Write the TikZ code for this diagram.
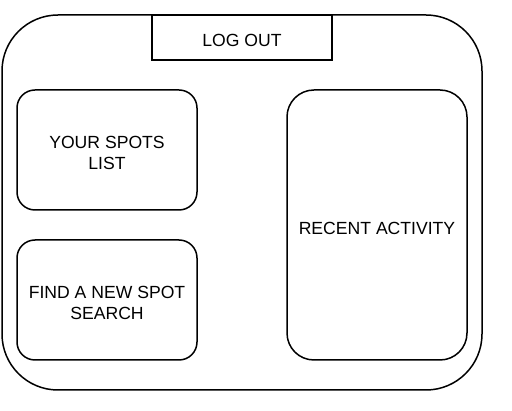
\documentclass[tikz,border=0pt]{standalone}
\usepackage{fontspec}
\setmainfont{Liberation Sans}
\begin{document}
\begin{tikzpicture}[x=1pt,y=-1pt,
  box/.style={draw=black,line width=1.5pt,fill=white,inner sep=0pt},
  txt/.style={label={[align=center,inner sep=0pt,yshift=-3pt,
    font=\fontsize{17.6}{20.5}\selectfont]center:#1}},
]
\useasboundingbox (0,0) rectangle (512,411);
\node[box,rounded corners=56pt,minimum width=480pt,minimum height=375pt] (frame) at (242,202.5) {};
\node[box,minimum width=180pt,minimum height=45pt,txt={LOG OUT}] (logout) at (242,37.5) {};
\node[box,rounded corners=18pt,minimum width=180pt,minimum height=120pt,txt={YOUR SPOTS\\LIST}] (spots) at (107,150) {};
\node[box,rounded corners=18pt,minimum width=180pt,minimum height=120pt,txt={FIND A NEW SPOT\\SEARCH}] (find) at (107,300) {};
\node[box,rounded corners=27pt,minimum width=180pt,minimum height=270pt,txt={RECENT ACTIVITY}] (recent) at (377,225) {};
\end{tikzpicture}
\end{document}
